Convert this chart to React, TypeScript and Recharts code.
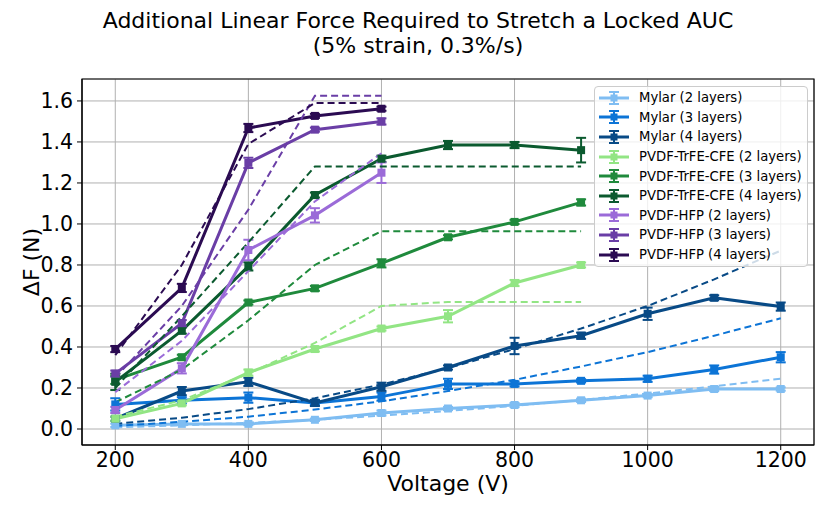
import {
  CartesianGrid,
  ErrorBar,
  Label,
  Legend,
  Line,
  LineChart,
  ReferenceArea,
  XAxis,
  YAxis,
} from 'recharts'

// Voltages (V) shared by every series; shorter series simply stop early.
const voltages = [200, 300, 400, 500, 600, 700, 800, 900, 1000, 1100, 1200]
const xTicks = [200, 400, 600, 800, 1000, 1200]
const yTicks = [0, 0.2, 0.4, 0.6, 0.8, 1.0, 1.2, 1.4, 1.6]

// Measured ΔF (N) and its error, plus the dashed model curve for each film.
const mylar2 = [0.018, 0.025, 0.025, 0.045, 0.078, 0.1, 0.117, 0.14, 0.163, 0.195, 0.195]
const mylar2Err = [0.008, 0.006, 0.006, 0.006, 0.012, 0.008, 0.01, 0.008, 0.008, 0.01, 0.008]
const mylar2Model = [0.008, 0.018, 0.03, 0.045, 0.065, 0.088, 0.113, 0.142, 0.173, 0.208, 0.245]

const mylar3 = [0.12, 0.14, 0.153, 0.127, 0.158, 0.22, 0.22, 0.235, 0.245, 0.29, 0.35]
const mylar3Err = [0.03, 0.015, 0.025, 0.01, 0.02, 0.025, 0.012, 0.008, 0.015, 0.02, 0.025]
const mylar3Model = [0.015, 0.035, 0.06, 0.095, 0.135, 0.185, 0.24, 0.305, 0.375, 0.455, 0.54]

const mylar4 = [0.05, 0.185, 0.23, 0.127, 0.206, 0.3, 0.405, 0.455, 0.562, 0.64, 0.597]
const mylar4Err = [0.01, 0.02, 0.02, 0.015, 0.02, 0.01, 0.04, 0.015, 0.03, 0.012, 0.02]
const mylar4Model = [0.025, 0.055, 0.097, 0.15, 0.217, 0.297, 0.39, 0.49, 0.6, 0.73, 0.87]

const cfe2 = [0.05, 0.125, 0.275, 0.39, 0.49, 0.55, 0.712, 0.8]
const cfe2Err = [0.01, 0.01, 0.015, 0.012, 0.01, 0.03, 0.015, 0.012]
const cfe2Model = [0.06, 0.14, 0.27, 0.42, 0.6, 0.62, 0.62, 0.62]

const cfe3 = [0.24, 0.35, 0.617, 0.686, 0.808, 0.935, 1.01, 1.105]
const cfe3Err = [0.02, 0.012, 0.01, 0.012, 0.02, 0.01, 0.01, 0.015]
const cfe3Model = [0.13, 0.29, 0.53, 0.8, 0.965, 0.965, 0.965, 0.965]

const cfe4 = [0.23, 0.48, 0.793, 1.141, 1.318, 1.385, 1.385, 1.36]
const cfe4Err = [0.04, 0.015, 0.02, 0.012, 0.015, 0.02, 0.015, 0.06]
const cfe4Model = [0.2, 0.55, 0.91, 1.28, 1.28, 1.28, 1.28, 1.28]

const hfp2 = [0.093, 0.296, 0.873, 1.042, 1.25]
const hfp2Err = [0.015, 0.025, 0.05, 0.035, 0.05]
const hfp2Model = [0.18, 0.43, 0.77, 1.11, 1.345]

const hfp3 = [0.27, 0.516, 1.298, 1.46, 1.5]
const hfp3Err = [0.015, 0.015, 0.025, 0.01, 0.015]
const hfp3Model = [0.25, 0.6, 1.07, 1.625, 1.625]

const hfp4 = [0.39, 0.688, 1.468, 1.527, 1.562]
const hfp4Err = [0.015, 0.02, 0.02, 0.01, 0.01]
const hfp4Model = [0.36, 0.8, 1.39, 1.59, 1.59]

const series = [
  { key: 'mylar2', name: 'Mylar (2 layers)', color: '#7fbdf2', values: mylar2, errors: mylar2Err, model: mylar2Model },
  { key: 'mylar3', name: 'Mylar (3 layers)', color: '#0c74d6', values: mylar3, errors: mylar3Err, model: mylar3Model },
  { key: 'mylar4', name: 'Mylar (4 layers)', color: '#084a86', values: mylar4, errors: mylar4Err, model: mylar4Model },
  { key: 'cfe2', name: 'PVDF-TrFE-CFE (2 layers)', color: '#92e584', values: cfe2, errors: cfe2Err, model: cfe2Model },
  { key: 'cfe3', name: 'PVDF-TrFE-CFE (3 layers)', color: '#1f8a3c', values: cfe3, errors: cfe3Err, model: cfe3Model },
  { key: 'cfe4', name: 'PVDF-TrFE-CFE (4 layers)', color: '#0b5a2f', values: cfe4, errors: cfe4Err, model: cfe4Model },
  { key: 'hfp2', name: 'PVDF-HFP (2 layers)', color: '#9b6bd8', values: hfp2, errors: hfp2Err, model: hfp2Model },
  { key: 'hfp3', name: 'PVDF-HFP (3 layers)', color: '#6a3ea6', values: hfp3, errors: hfp3Err, model: hfp3Model },
  { key: 'hfp4', name: 'PVDF-HFP (4 layers)', color: '#2b0b52', values: hfp4, errors: hfp4Err, model: hfp4Model },
]

const rows = voltages.map((v, i) => {
  const row: Record<string, number | undefined> = { v }
  for (const s of series) {
    row[s.key] = s.values[i]
    row[`${s.key}Err`] = s.errors[i]
    row[`${s.key}Model`] = s.model[i]
  }
  return row
})

const X_DOMAIN: [number, number] = [150, 1250]
const Y_DOMAIN: [number, number] = [-0.078, 1.707]
const FONT = 'DejaVu Sans, sans-serif'

const squareDot = (color: string) => (props: any) => {
  const { cx, cy, value, index, dataKey } = props
  if (cx == null || cy == null || value == null) return <g key={`${dataKey}-${index}`} />
  return <rect key={`${dataKey}-${index}`} x={cx - 4} y={cy - 4} width={8} height={8} fill={color} />
}

function LegendBox() {
  return (
    <div
      style={{
        background: 'rgba(255,255,255,0.8)',
        border: '1px solid #cccccc',
        borderRadius: 4,
        padding: '1px 0 2px 4px',
        fontFamily: FONT,
        fontSize: 13.2,
        color: '#000',
        boxSizing: 'border-box',
      }}
    >
      {series.map((s) => (
        <div key={s.key} style={{ display: 'flex', alignItems: 'center', height: 19.6 }}>
          <svg width={30} height={16} style={{ flexShrink: 0 }}>
            <line x1={0} y1={8} x2={30} y2={8} stroke={s.color} strokeWidth={3} />
            <line x1={15} y1={2} x2={15} y2={14} stroke={s.color} strokeWidth={2} />
            <line x1={10} y1={2} x2={20} y2={2} stroke={s.color} strokeWidth={2} />
            <line x1={10} y1={14} x2={20} y2={14} stroke={s.color} strokeWidth={2} />
            <rect x={11.5} y={4.5} width={7} height={7} fill={s.color} />
          </svg>
          <span style={{ marginLeft: 10, whiteSpace: 'nowrap' }}>{s.name}</span>
        </div>
      ))}
    </div>
  )
}

export default function App() {
  return (
    <div style={{ position: 'absolute', left: 0, top: 0, width: 831, height: 514, background: '#fff' }}>
      <div
        style={{
          position: 'absolute',
          left: 0,
          top: 8,
          width: 836,
          textAlign: 'center',
          fontFamily: FONT,
          fontSize: 22,
          lineHeight: '25px',
          color: '#000',
        }}
      >
        Additional Linear Force Required to Stretch a Locked AUC
        <br />
        (5% strain, 0.3%/s)
      </div>
      <LineChart width={831} height={514} data={rows} margin={{ top: 79, right: 17, bottom: 39, left: 22 }}>
        <CartesianGrid stroke="#b0b0b0" strokeWidth={1} />
        <XAxis
          dataKey="v"
          type="number"
          domain={X_DOMAIN}
          ticks={xTicks}
          height={30}
          tickSize={5}
          tickMargin={2}
          stroke="#000"
          tick={{ fontSize: 20.5, fill: '#000', fontFamily: FONT }}
        >
          <Label value="Voltage (V)" position="bottom" offset={0} style={{ fontSize: 22, fill: '#000', fontFamily: FONT }} />
        </XAxis>
        <YAxis
          type="number"
          domain={Y_DOMAIN}
          ticks={yTicks}
          allowDataOverflow
          width={60}
          tickSize={5}
          tickMargin={4}
          stroke="#000"
          tickFormatter={(t: number) => t.toFixed(1)}
          tick={{ fontSize: 20.5, fill: '#000', fontFamily: FONT }}
        >
          <Label
            value="ΔF (N)"
            angle={-90}
            position="insideLeft"
            offset={9}
            style={{ fontSize: 22, fill: '#000', fontFamily: FONT, textAnchor: 'middle' }}
          />
        </YAxis>
        {series.map((s) => (
          <Line
            key={s.key}
            dataKey={s.key}
            stroke={s.color}
            strokeWidth={3}
            dot={squareDot(s.color)}
            activeDot={false}
            legendType="none"
            isAnimationActive={false}
          >
            <ErrorBar
              dataKey={`${s.key}Err`}
              direction="y"
              width={5}
              strokeWidth={2}
              stroke={s.color}
              isAnimationActive={false}
            />
          </Line>
        ))}
        {series.map((s) => (
          <Line
            key={`${s.key}Model`}
            dataKey={`${s.key}Model`}
            stroke={s.color}
            strokeWidth={2}
            strokeDasharray="7 4"
            dot={false}
            activeDot={false}
            legendType="none"
            isAnimationActive={false}
          />
        ))}
        <ReferenceArea
          x1={X_DOMAIN[0]}
          x2={X_DOMAIN[1]}
          y1={Y_DOMAIN[0]}
          y2={Y_DOMAIN[1]}
          fill="none"
          stroke="#000"
          strokeWidth={1.2}
          ifOverflow="visible"
        />
        <Legend
          layout="vertical"
          align="center"
          verticalAlign="middle"
          content={() => <LegendBox />}
          wrapperStyle={{ left: 594, top: 86, width: 214, height: 180 }}
        />
      </LineChart>
    </div>
  )
}
